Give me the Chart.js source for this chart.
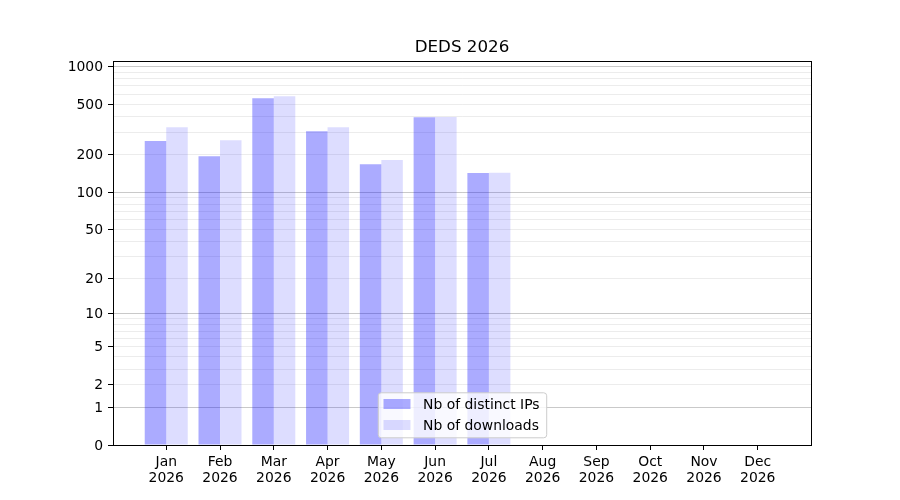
<!DOCTYPE html>
<html>
<head>
<meta charset="utf-8">
<script src="https://cdn.jsdelivr.net/npm/chart.js@4.4.1/dist/chart.umd.min.js"></script>
<style>
  html, body { margin:0; padding:0; background:#fff; }
  canvas { display:block; }
</style>
</head>
<body>
<canvas id="chart" width="900" height="500"></canvas>
<script>
const TITLE = "DEDS 2026";
const MONTHS = ["Jan","Feb","Mar","Apr","May","Jun","Jul","Aug","Sep","Oct","Nov","Dec"];
const YEAR = "2026";
const DISTINCT_IPS = [255, 193, 558, 306, 167, 395, 142];
const DOWNLOADS = [329, 259, 579, 329, 180, 397, 143];
const Y_LABELED = [0, 1, 2, 5, 10, 20, 50, 100, 200, 500, 1000];
const Y_MINOR = [3, 4, 6, 7, 8, 9, 30, 40, 60, 70, 80, 90, 300, 400, 600, 700, 800, 900];
const Y_MAJOR_GRID = [1, 10, 100, 1000];

const FONT = "DejaVu Sans";
const f = v => Math.log10(1 + v);

// y axis drawn as log10(1 + v), the way the original plot does it
class Log1pScale extends Chart.LinearScale {
  static id = "log1p";
  buildTicks(){
    return [...Y_LABELED, ...Y_MINOR].sort((a,b) => a-b).map(v => ({ value: v }));
  }
  configure(){
    super.configure();
    this._tMin = f(this.min);
    this._tMax = f(this.max);
  }
  getPixelForValue(v){
    return this.getPixelForDecimal((f(v) - this._tMin) / (this._tMax - this._tMin));
  }
  getValueForPixel(p){
    const d = this.getDecimalForPixel(p);
    return Math.pow(10, this._tMin + d * (this._tMax - this._tMin)) - 1;
  }
}
Chart.register(Log1pScale);

Chart.defaults.font.family = FONT;
Chart.defaults.font.size = 13.9;
Chart.defaults.color = "#000";

const framePlugin = {
  id: "frame",
  afterDraw(chart){
    const { ctx, chartArea: a } = chart;
    ctx.save();
    // axes frame
    ctx.strokeStyle = "#000";
    ctx.lineWidth = 1;
    ctx.strokeRect(Math.round(a.left) + 0.5, Math.round(a.top) + 0.5, Math.round(a.right - a.left), Math.round(a.bottom - a.top));

    // title
    ctx.fillStyle = "#000";
    ctx.font = `16.7px "${FONT}"`;
    ctx.textAlign = "center";
    ctx.textBaseline = "alphabetic";
    ctx.fillText(TITLE, (a.left + a.right) / 2, a.top - 9.5);

    // legend, lower center inside the axes
    ctx.font = `13.9px "${FONT}"`;
    const sets = chart.data.datasets;
    const textW = Math.max(...sets.map(d => ctx.measureText(d.label).width));
    const w = 5.7 + 27 + 12.6 + textW + 6.7;
    const h = 45;
    const x = (a.left + a.right) / 2 - w / 2;
    const y = a.bottom - 7.7 - h;
    ctx.beginPath();
    ctx.roundRect(x + 0.5, y + 0.5, w, h, 3);
    ctx.fillStyle = "rgba(255,255,255,0.8)";
    ctx.fill();
    ctx.strokeStyle = "#cccccc";
    ctx.stroke();
    sets.forEach((d, i) => {
      const base = y + 16.7 + i * 21;
      ctx.fillStyle = d.backgroundColor;
      ctx.fillRect(x + 5.7, base - 10, 27, 10);
      ctx.fillStyle = "#000";
      ctx.textAlign = "left";
      ctx.fillText(d.label, x + 5.7 + 27 + 12.6, base);
    });
    ctx.restore();
  }
};

new Chart(document.getElementById("chart"), {
  type: "bar",
  data: {
    datasets: [
      { label: "Nb of distinct IPs", data: DISTINCT_IPS.map((v, i) => ({ x: i, y: v })), backgroundColor: "rgba(0,0,255,0.33)", borderWidth: 0 },
      { label: "Nb of downloads", data: DOWNLOADS.map((v, i) => ({ x: i, y: v })), backgroundColor: "rgba(0,0,255,0.135)", borderWidth: 0 }
    ]
  },
  options: {
    responsive: false,
    animation: false,
    devicePixelRatio: 1,
    layout: { padding: { top: 61, right: 89, bottom: 0, left: 0 } },
    datasets: { bar: { categoryPercentage: 0.8, barPercentage: 1 } },
    plugins: { legend: { display: false }, title: { display: false }, tooltip: { enabled: false } },
    scales: {
      x: {
        type: "linear",
        bounds: "data",
        offset: false,
        min: -0.99,
        max: 11.99,
        afterBuildTicks: s => { s.ticks = MONTHS.map((m, i) => ({ value: i })); },
        afterFit: s => { s.height = 55; },
        ticks: { autoSkip: false, maxRotation: 0, padding: 5, font: { size: 13.9, lineHeight: 1.12 }, callback: v => [MONTHS[v], YEAR] },
        grid: { offset: false, drawOnChartArea: false, tickLength: 5, tickColor: "#000" },
        border: { color: "#000", width: 1 }
      },
      y: {
        type: "log1p",
        min: 0,
        max: 1103,
        z: 1,
        afterFit: s => { s.width = 113; },
        ticks: { autoSkip: false, padding: 5, labelOffset: 1, callback: v => Y_LABELED.includes(v) ? String(v) : "" },
        grid: {
          lineWidth: 1,
          tickLength: 5,
          color: c => {
            const v = c.tick && c.tick.value;
            if (v === 0) return "rgba(0,0,0,0)";
            return Y_MAJOR_GRID.includes(v) ? "rgba(0,0,0,0.21)" : "rgba(0,0,0,0.075)";
          },
          tickColor: c => (c.tick && Y_LABELED.includes(c.tick.value)) ? "#000" : "rgba(0,0,0,0)"
        },
        border: { color: "#000", width: 1 }
      }
    }
  },
  plugins: [framePlugin]
});
</script>
</body>
</html>
